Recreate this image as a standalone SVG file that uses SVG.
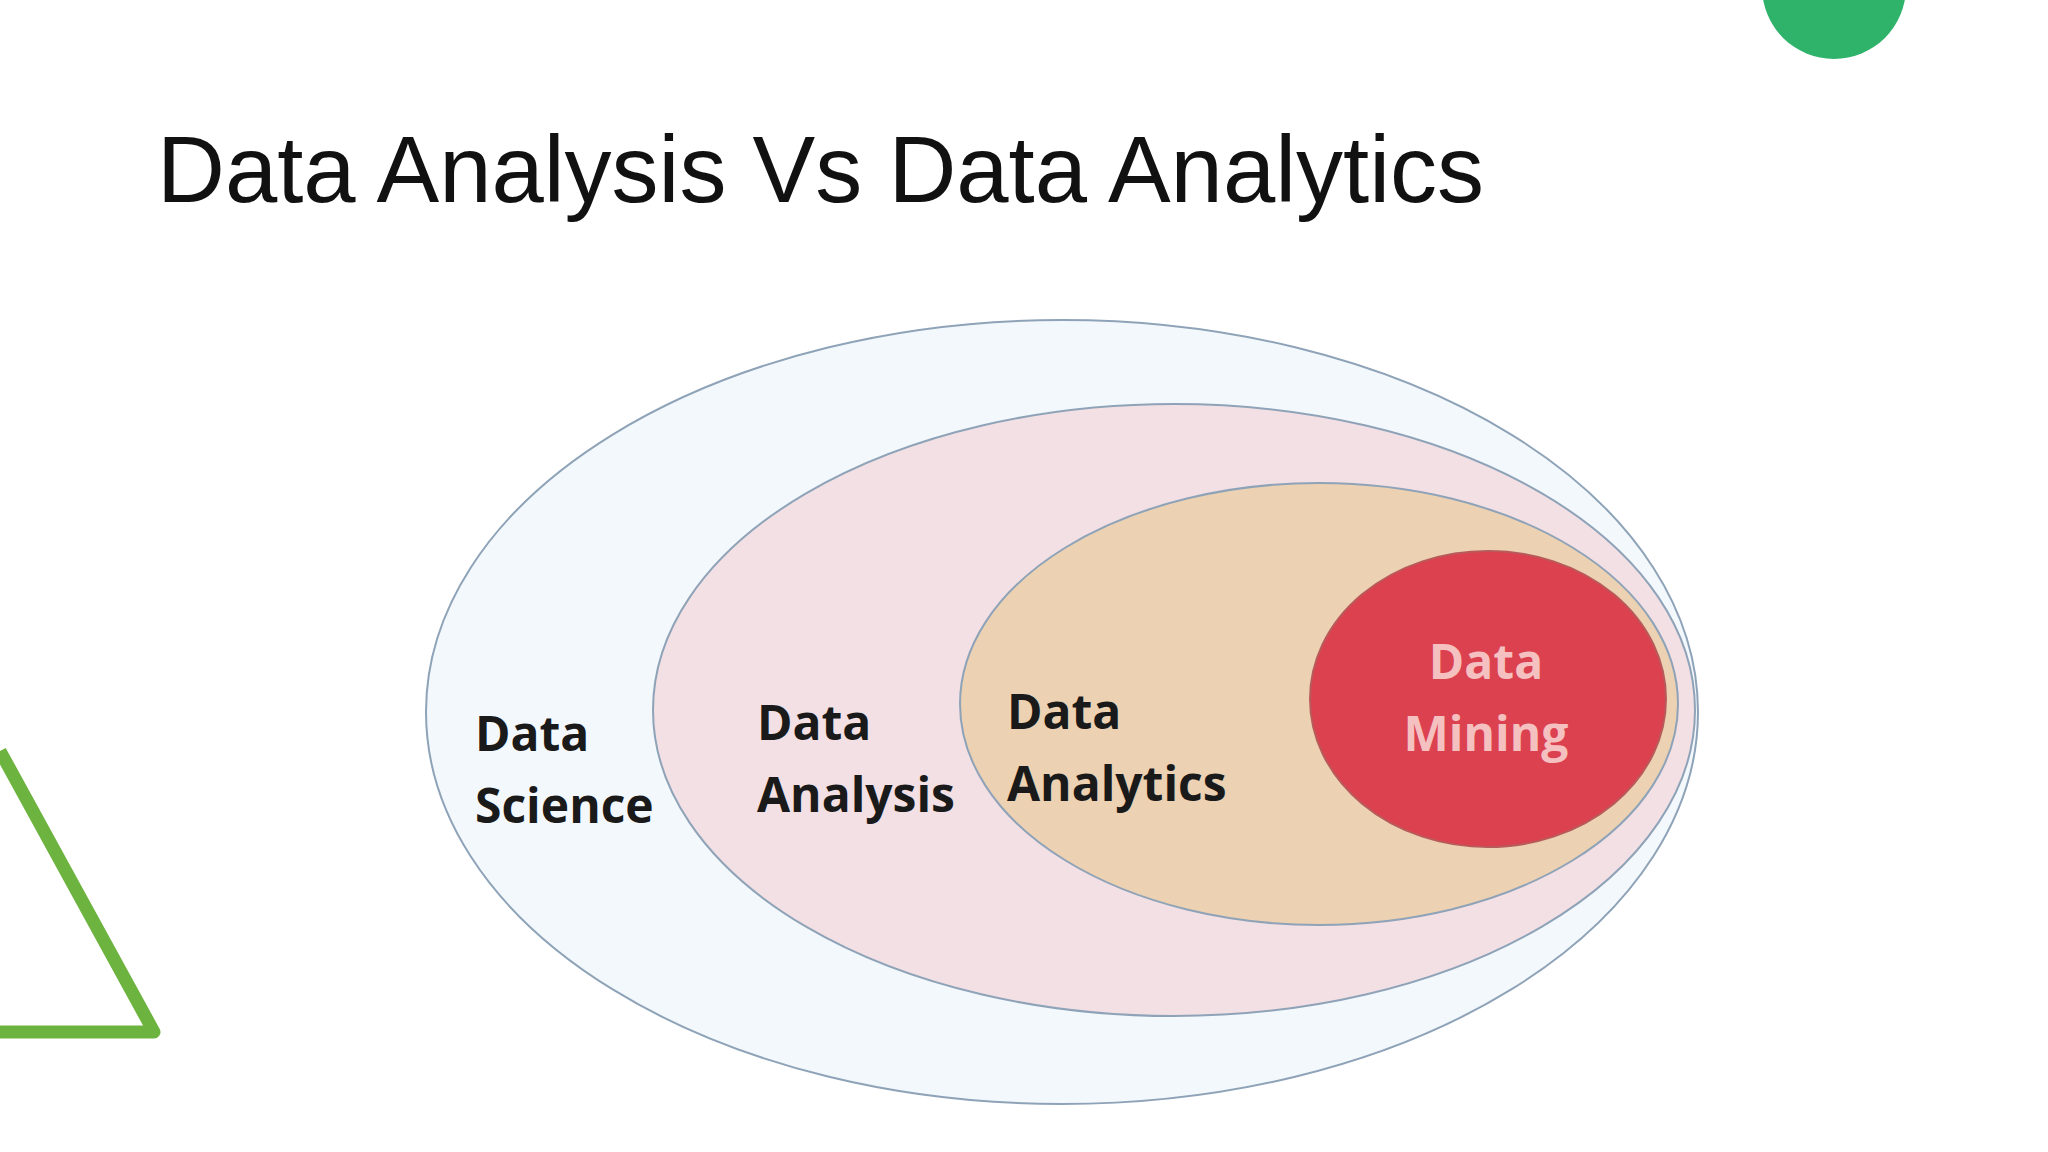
<svg xmlns="http://www.w3.org/2000/svg" width="2048" height="1152" viewBox="0 0 2048 1152">
<style>
.lbl{font-family:"Open Sans","Liberation Sans",sans-serif;font-weight:bold;font-size:48px;fill:#1a1a1a}
.ell{stroke:#8fa3b8;stroke-width:2}
</style>
<rect width="2048" height="1152" fill="#ffffff"/>
<circle cx="1834" cy="-13" r="72" fill="#2fb36b"/>
<polyline points="0,751 154,1032 0,1032" fill="none" stroke="#6db33f" stroke-width="13" stroke-linejoin="round"/>
<text x="157" y="202" font-family="Liberation Sans, Arial, sans-serif" font-size="94" fill="#111">Data Analysis Vs Data Analytics</text>
<g id="science"><ellipse class="ell" cx="1062" cy="712" rx="636" ry="392" fill="#f3f8fc"/>
<text class="lbl" x="475" y="751">Data</text><text class="lbl" x="475" y="823">Science</text></g>
<g id="analysis"><ellipse class="ell" cx="1174" cy="710" rx="521" ry="306" fill="#f3e0e4"/>
<text class="lbl" x="757" y="740">Data</text><text class="lbl" x="757" y="812">Analysis</text></g>
<g id="analytics"><ellipse class="ell" cx="1319" cy="704" rx="359" ry="221" fill="#ecd1b2"/>
<text class="lbl" x="1007" y="729">Data</text><text class="lbl" x="1007" y="801">Analytics</text></g>
<g id="mining"><ellipse cx="1488" cy="699" rx="178" ry="148" fill="#dc4150" stroke="#b85a5a" stroke-width="2"/>
<text class="lbl" x="1486" y="679" text-anchor="middle" style="fill:#f4c0c0">Data</text><text class="lbl" x="1486" y="751" text-anchor="middle" style="fill:#f4c0c0">Mining</text></g>
<g id="connectors"/>
</svg>
